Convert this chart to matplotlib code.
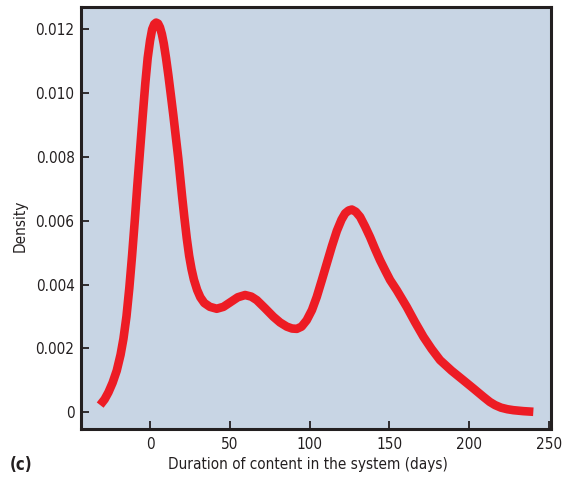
import matplotlib
matplotlib.use("Agg")
import matplotlib.pyplot as plt

plt.rcParams['font.family'] = ['DejaVu Sans']
plt.rcParams['font.stretch'] = 'condensed'

# Kernel density of content duration (days)
days = [-31.3, -28.5, -26.1, -23.5, -20.9, -18.5, -16.7, -14.8, -13.0, -11.3,
        -9.6, -8.0, -6.3, -4.6, -3.0, -1.5, 0.0, 1.3, 2.6, 3.8, 5.0, 6.2, 7.4,
        8.6, 10.0, 11.5, 13.0, 14.6, 16.2, 17.7, 19.0, 20.1, 21.5, 23.0, 24.5,
        26.0, 27.5, 29.5, 31.5, 34.0, 37.5, 41.8, 46.0, 50.2, 55.0, 59.6, 63.5,
        66.9, 72.0, 77.3, 81.5, 85.7, 89.0, 92.0, 95.0, 98.2, 101.5, 104.5, 107.6,
        110.8, 114.0, 117.1, 120.0, 122.3, 124.5, 126.5, 129.0, 131.7, 134.8,
        137.9, 141.0, 144.2, 147.5, 150.5, 154.7, 157.8, 160.9, 166.0, 171.4,
        176.5, 181.8, 189.0, 196.4, 203.0, 209.0, 213.0, 216.3, 220.0, 224.0,
        227.8, 234.0, 240.3]
density = [0.00022, 0.00040, 0.00062, 0.00092, 0.00130, 0.00180, 0.00230, 0.00300,
           0.00390, 0.00490, 0.00600, 0.00710, 0.00820, 0.00930, 0.01030, 0.01110,
           0.01165, 0.01200, 0.01216, 0.01221, 0.01218, 0.01206, 0.01185, 0.01155,
           0.01110, 0.01055, 0.00995, 0.00930, 0.00860, 0.00795, 0.00730, 0.00675,
           0.00610, 0.00545, 0.00490, 0.00448, 0.00415, 0.00383, 0.00360, 0.00342,
           0.00330, 0.00324, 0.00330, 0.00344, 0.00360, 0.00367, 0.00362, 0.00351,
           0.00326, 0.00299, 0.00281, 0.00268, 0.00262, 0.00261, 0.00268, 0.00288,
           0.00320, 0.00361, 0.00412, 0.00466, 0.00520, 0.00568, 0.00603, 0.00623,
           0.00632, 0.00635, 0.00628, 0.00612, 0.00582, 0.00549, 0.00512, 0.00476,
           0.00443, 0.00414, 0.00382, 0.00356, 0.00330, 0.00283, 0.00236, 0.00198,
           0.00163, 0.00130, 0.00100, 0.00073, 0.00048, 0.00032, 0.00022, 0.00014,
           0.00009, 0.00006, 0.00003, 0.00001]

x_ticks = [0, 50, 100, 150, 200, 250]
y_ticks = [0, 0.002, 0.004, 0.006, 0.008, 0.010, 0.012]
y_tick_labels = ['0', '0.002', '0.004', '0.006', '0.008', '0.010', '0.012']

ink = '#231f20'

fig = plt.figure(figsize=(5.64, 4.78), dpi=100)
ax = fig.add_axes([0.1445, 0.1025, 0.8325, 0.8829])
ax.set_facecolor('#c8d5e4')

ax.plot(days, density, color='#ed1c24', linewidth=6.2,
        solid_capstyle='butt', solid_joinstyle='round')

ax.set_xlim(-43, 251.4)
ax.set_ylim(-0.00053, 0.0127)
ax.set_xticks(x_ticks)
ax.set_yticks(y_ticks)
ax.set_yticklabels(y_tick_labels)

for s in ax.spines.values():
    s.set_linewidth(2.2)
    s.set_color(ink)

ax.tick_params(axis='both', direction='in', length=6, width=1.3,
               color=ink, labelsize=11, labelcolor=ink, pad=5)
ax.tick_params(axis='x', pad=6)

fig.text(308 / 564, 1 - 465 / 478, 'Duration of content in the system (days)',
         fontsize=11, color=ink, ha='center', va='center')
fig.text(20 / 564, 1 - 226 / 478, 'Density', fontsize=11, color=ink,
         rotation=90, ha='center', va='center')
fig.text(21 / 564, 1 - 465 / 478, '(c)', fontsize=12, fontweight='bold',
         color=ink, ha='center', va='center')

fig.savefig('out.png', dpi=100, facecolor='white')
